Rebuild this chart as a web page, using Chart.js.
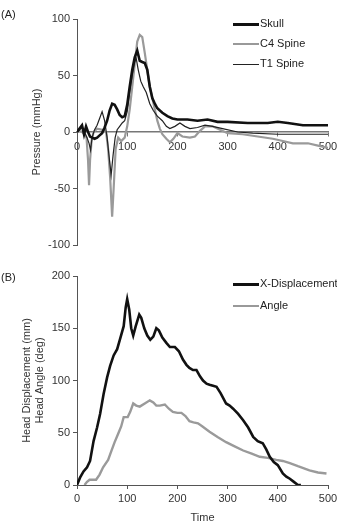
<!DOCTYPE html>
<html>
<head>
<meta charset="utf-8">
<script src="https://cdn.jsdelivr.net/npm/chart.js@4.4.0/dist/chart.umd.min.js"></script>
<style>
  html, body { margin:0; padding:0; background:#fff; width:337px; height:525px; overflow:hidden; }
  body { position:relative; font-family:"Liberation Sans", Arial, sans-serif; color:#222; }
  canvas { position:absolute; left:0; }
  #cA { top:0; }
  #cB { top:260px; }
  .lbl { position:absolute; font-size:11px; line-height:12px; }
  .leg { position:absolute; left:233px; font-size:11px; line-height:12px; height:12px; white-space:nowrap; }
  .leg span.ln { display:inline-block; width:26px; vertical-align:middle; margin-right:1px; }
</style>
</head>
<body>
<canvas id="cA" width="348" height="260"></canvas>
<canvas id="cB" width="348" height="265"></canvas>

<div class="lbl" style="left:1px; top:8px;">(A)</div>
<div class="lbl" style="left:1px; top:271px;">(B)</div>

<div class="leg" style="top:17px;"><span class="ln" style="border-top:3px solid #111;"></span>Skull</div>
<div class="leg" style="top:37px;"><span class="ln" style="border-top:2px solid #999;"></span>C4 Spine</div>
<div class="leg" style="top:57px;"><span class="ln" style="border-top:1px solid #222;"></span>T1 Spine</div>

<div class="leg" style="top:277px;"><span class="ln" style="border-top:3px solid #111;"></span>X-Displacement</div>
<div class="leg" style="top:299px;"><span class="ln" style="border-top:2px solid #999;"></span>Angle</div>

<script>
// panel A: pressure (mmHg) vs time
const skullT = [0,5,10,14,18,22,26,30,35,40,45,50,55,60,65,70,75,80,85,90,95,100,105,110,115,120,125,130,135,140,145,150,155,160,170,180,190,200,220,240,260,280,300,340,380,400,420,450,480,500];
const skullP = [0,3,6,-2,5,0,-4,-5,-6,-5,-3,-1,4,10,19,25,24,20,15,13,14,24,40,55,66,72,63,62,61,55,40,30,25,21,17,14,12,11,11,10,11,9,9,8,8,9,8,6,6,6];

const c4T = [0,5,10,15,19,22,24,26,29,33,40,50,58,62,66,70,73,77,82,88,95,100,105,110,115,120,125,130,135,140,145,150,155,160,165,170,178,185,192,200,210,225,235,245,255,270,285,300,330,360,390,410,430,460,480,500];
const c4P = [0,1,0,-2,-5,-25,-47,-25,-8,0,3,2,0,-15,-40,-75,-50,-15,-5,-8,-5,5,20,40,60,80,86,84,70,55,40,30,20,10,3,-2,-6,-9,-6,-1,-4,-5,-4,1,5,5,2,-1,-2,-4,-6,-8,-10,-10,-12,-14];

const t1T = [0,5,10,15,20,24,27,30,35,40,45,50,55,60,64,68,72,76,80,85,90,95,100,105,110,115,118,122,127,132,138,145,152,160,170,178,185,195,205,215,225,240,255,270,290,320,350,400,450,500];
const t1P = [0,2,4,0,-5,-10,-16,-5,2,6,12,18,10,-5,-22,-38,-20,-5,2,5,8,10,18,35,50,62,65,55,45,40,35,25,19,14,10,5,3,5,8,5,3,4,6,5,3,0,-1,-2,-2,-2];

const pressTicks = [-100,-50,0,50,100];

// panel B: head displacement / angle vs time
const xdispT = [0,6,13,20,26,33,40,46,53,60,66,73,80,86,93,97,100,104,108,112,117,124,128,134,140,146,152,158,163,170,178,185,195,203,211,218,224,231,238,245,251,258,264,271,278,286,297,304,311,321,331,341,351,360,370,377,384,392,400,410,417,424,432,440,446];
const xdispV = [0,7,13,17,23,42,55,68,87,103,114,124,130,140,152,170,178,168,150,143,152,163,160,150,143,139,142,150,148,141,136,132,132,128,120,115,112,110,110,104,100,97,96,95,94,88,78,76,73,68,62,55,46,42,40,34,27,22,19,11,8,6,3,0,0];

const angleT = [15,20,25,38,45,52,62,68,75,82,88,93,101,106,112,118,125,135,145,152,158,165,175,183,191,200,208,216,224,232,241,250,264,280,297,314,331,348,364,380,397,410,424,440,463,480,497];
const angleV = [0,3,5,5,10,17,24,32,41,49,56,65,65,70,78,76,75,78,81,79,76,76,77,73,70,69,69,66,61,60,59,56,51,46,41,37,33,30,27,26,24,23,21,18,14,12,11];

const timeTicks = [0,100,200,300,400,500];

function pts(xs, ys){ return xs.map((x,i)=>({x, y: ys[i]})); }

const FONT = { family: '"Liberation Sans", Arial, sans-serif', size: 11 };
const TXT = '#333';

function line(data, color, width){
  return { data, borderColor: color, borderWidth: width, pointRadius: 0, tension: 0, fill: false };
}

function yAxis(min, max, step, title){
  return {
    min, max,
    afterFit: s => { s.width = 77; },
    afterBuildTicks: s => { s.ticks = []; for(let v=min; v<=max; v+=step) s.ticks.push({value:v}); },
    grid: { drawOnChartArea: false, drawTicks: true, tickLength: 4, color: '#555' },
    border: { color: '#555', width: 1 },
    ticks: { color: TXT, font: FONT, padding: 3 },
    title: { display: true, text: title, color: TXT, font: FONT, padding: { top: 30, bottom: 0 } }
  };
}

function xTicksBuild(s){ s.ticks = timeTicks.map(v=>({value:v})); }

new Chart(document.getElementById('cA'), {
  type: 'line',
  data: {
    datasets: [
      line(pts(skullT, skullP), '#111', 2.6),
      line(pts(t1T, t1P), '#222', 1.2),
      line(pts(c4T, c4P), '#9a9a9a', 2.2)
    ]
  },
  options: {
    responsive: false, animation: false,
    layout: { padding: { top: 19, bottom: 15, right: 20, left: 0 } },
    plugins: { legend: { display: false }, tooltip: { enabled: false } },
    scales: {
      x: {
        type: 'linear', position: { y: 0 }, min: 0, max: 500,
        afterBuildTicks: xTicksBuild,
        grid: { drawOnChartArea: false, drawTicks: true, tickLength: 4, color: '#777' },
        border: { color: '#777', width: 1.5 },
        ticks: { color: TXT, font: FONT, padding: 4, maxRotation: 0 }
      },
      y: (() => { const a = yAxis(-100, 100, 50, 'Pressure (mmHg)'); a.ticks.callback = v => pressTicks.includes(v) ? v : ''; return a; })()
    }
  }
});

new Chart(document.getElementById('cB'), {
  type: 'line',
  data: {
    datasets: [
      line(pts(xdispT, xdispV), '#111', 2.6),
      line(pts(angleT, angleV), '#9a9a9a', 2.4)
    ]
  },
  options: {
    responsive: false, animation: false,
    layout: { padding: { top: 16, bottom: 0, right: 20, left: 0 } },
    plugins: { legend: { display: false }, tooltip: { enabled: false } },
    scales: {
      x: {
        type: 'linear', min: 0, max: 500,
        afterBuildTicks: xTicksBuild,
        afterFit: s => { s.height = 40; },
        grid: { drawOnChartArea: false, drawTicks: true, tickLength: 4, color: '#555' },
        border: { color: '#555', width: 1 },
        ticks: { color: TXT, font: FONT, padding: 3, maxRotation: 0 },
        title: { display: true, text: 'Time', color: TXT, font: FONT, padding: { top: 0, bottom: 0 } }
      },
      y: (() => { const a = yAxis(0, 200, 50, ['Head Displacement (mm)', 'Head Angle (deg)']); a.title.padding = { top: 20, bottom: 0 }; return a; })()
    }
  }
});
</script>
</body>
</html>
